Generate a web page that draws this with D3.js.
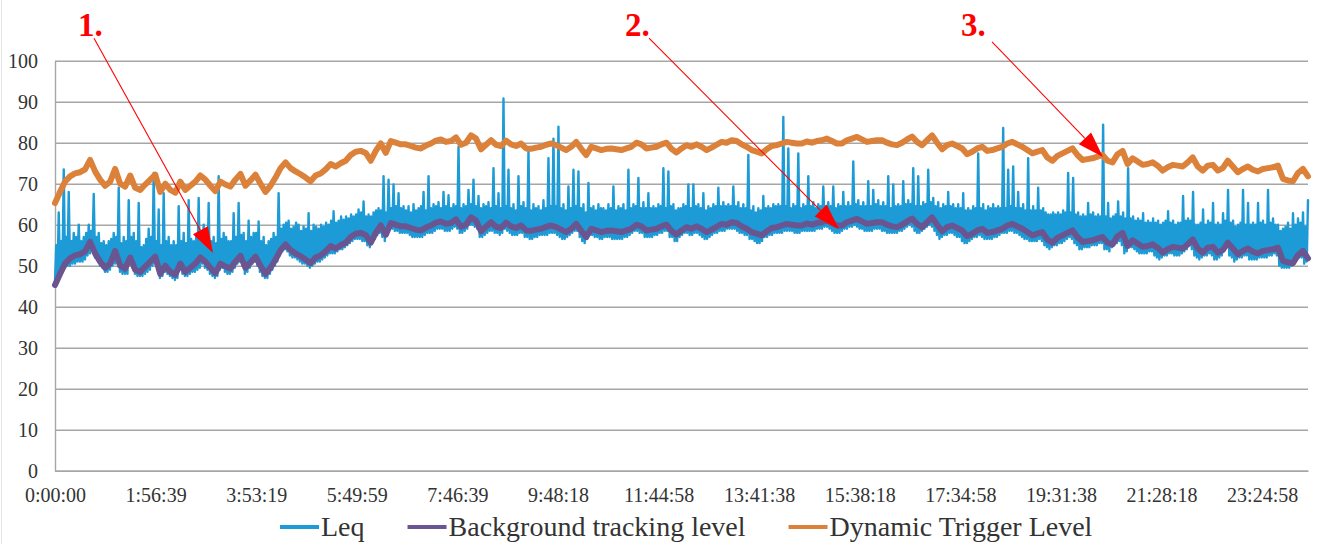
<!DOCTYPE html>
<html><head><meta charset="utf-8">
<script src="https://cdn.jsdelivr.net/npm/d3@7"></script>
<style>
html,body{margin:0;padding:0;background:#fff;}
svg{display:block;font-family:"Liberation Serif","Times New Roman",serif;}
</style></head><body>
<svg id="chart" width="1325" height="544"></svg>
<script>
// ---------- data ----------
const timeLabels = ["0:00:00","1:56:39","3:53:19","5:49:59","7:46:39","9:48:18","11:44:58",
  "13:41:38","15:38:18","17:34:58","19:31:38","21:28:18","23:24:58"];
const samplesPerLabel = 7000;
const totalSamples = 87190;
const yTicks = [0,10,20,30,40,50,60,70,80,90,100];

const seriesNames = ["Leq","Background tracking level","Dynamic Trigger Level"];

const leq = [
46,55,47,63,47.5,56,49,73.5,49.5,57,50,68,50,56,50.5,58,50.5,57,51,60,
51,56,51,57,51.5,58,52.5,60,53,58.5,54,67.5,52,57,51.5,58,50,55.5,49.5,56,
48.5,55,48.5,56,49,56.5,50,58,50.5,57,51,69,48.5,55.5,48,57,48,56,48,66,
50.5,57,49.5,58,48,56,47.5,65.3,47.5,54.5,47.5,55,48,56.5,48.5,59,49,57,50,72.6,
50.5,56,49,63.7,47,55,47.5,67.7,48.5,56,48,57,47.5,55,47,56,46.5,55,47,64.5,
49,56,48,58,47.5,55.5,47.5,66,48,56.5,48.5,56,48.5,57,49,66.5,49.5,57,50.5,60,
49.5,57,49,65.3,48,56,47.5,57,47,55.5,47.5,71.8,49,56.5,49.5,58,48.5,57,48,56,
48,56,48.5,62.8,49.5,57,50.5,65.3,51,57.5,50,58,48,56,48.5,61,49.5,57,50.5,58,
51,58,50,60.8,48.5,56,47.5,57,47,55,47,56,48,56.5,49,58,50,57,51,67.7,
52.5,59,53.5,60,54,60.5,53.5,61,52.5,59,52,59.5,52,60.5,51.5,60,51,58.5,50.5,59.6,
50.5,59,50,62.8,49.5,58.5,50,60,50.5,59.5,51,59,51,60,51.5,59.5,52,60.5,52.5,60,
53,61,53,63.3,53,60.5,53.5,61,54,62,54,61.2,54.5,62,55,61.5,55.5,62.5,56,62,
56.5,62.5,56.5,63.7,56.5,63,56,65.7,56,62,55,62.5,54.5,62,55.5,63,56.5,63.5,57.5,64,
58,63.5,57,71.8,56,63,57.5,71,59,64,59,69.8,58.5,64.5,58.5,67.7,58,64,58,64.5,
58,63.5,58,64.5,57.5,63,57,65,57,63.5,57,64,57,64.5,57,68,57.5,63.5,58,71.8,
58,64,58,65,58.5,64.5,59,65.5,59,64,59,68,58.5,64.5,58.5,67.2,58.5,64,59,65,
59.5,64.5,59,79,58,64,58,65,58.5,64.5,59,68.5,60,65,60,71,59.5,64.5,59,67,
57,64,57,65,57.5,64.5,58,65.5,58.5,64,58.5,73.8,58,64.5,58,67.7,57.5,64,58,90.8,
59,64.5,58.5,73.4,58,64,57.5,65,57.5,63.5,57.5,71.8,58,64.5,58,65.5,57,64,57,78.2,
56.5,63.5,56.5,65,57,64,57,64.5,57.5,63.5,57.5,66,57.5,64,57.5,76.2,58,64.5,58,81,
58,64.5,57.5,83.9,57,64,56.5,65,56.5,63.5,57,69.3,57.5,64,58,73.4,58.5,64.5,58.5,73,
57,64,56,65,55.5,63,56.5,70.2,57.5,64,57.5,64.5,57,63.5,57,65,56.5,64,56.5,64,
57,63.5,57,65,57,64,56.5,69.3,56.5,63.5,56.5,64.5,56.5,64,56.5,65,57,63.5,57,73.4,
57.5,64,58,65,58.5,64.5,58.5,71.4,58,64,58,65.5,57,64,57,67.7,57,64,57,64.5,
57.5,64,57.5,65,58,64.5,58,73.8,58.5,64,58.5,73,57,64.5,57,65,56,63.5,56,64,
57,64,57.5,65,58,64.5,58,69.8,57.5,64,57.5,69.8,58,64.5,58,65,57.5,64,57,67.7,
56.5,63.5,56.5,64.5,57,64,57.5,65,58,64.5,58,69,58.5,64.5,58.5,65.5,58.5,64.5,59,65,
59,64.5,59,69.3,59,64.5,58.5,65.5,58,64,58,65,57.5,64,57.5,77,56.5,63.5,56.5,64.5,
56,63,55.5,64,55.5,63.5,56,67,57,64,57,64.5,57.5,64,57.5,65,58,64.5,58,65,
58,64.5,58,86.3,58.5,64.5,58.5,78.6,58.5,64,58.5,65,58,64.5,58,77.4,58,64,58.5,65,
58.5,64.5,58.5,71.8,58.5,64.5,58.5,65.5,58.5,64,59,65,59,64.5,59,69.3,59.5,64.5,59.5,65.5,
59,64.5,58.5,69.3,58,64,58,65,58,64.5,58.5,68,59,64.5,59,65.5,59.5,64.5,59.5,75.4,
60,65,59.5,66,59,64.5,59,65.5,58.5,64.5,58.5,70.6,58.5,64.5,58.5,68.5,59,65,59,66,
59,64.5,58.5,65.5,58.5,64.5,58,71.8,58,64,58,69.8,58,64.5,58,65,58.5,64.5,58.5,70.6,
59,65,59.5,66,60,65,59.5,73.8,58.5,64.5,58,71.8,58,64.5,58.5,65.5,59,65,59.5,73.4,
60,65.5,59.5,66.5,58.5,64.5,57.5,65.5,56.5,64,57,65,57.5,64.5,57.5,68,58,64.5,58,65,
57.5,64,57,65,57,64,56,67.7,55.5,63.5,55.5,64,56,63.5,56.5,64.5,57,64,57,77.4,
57.5,64,57,65,56.5,63.5,56.5,64.5,56.5,64,56.5,65,57,64,57,64.5,57.5,64,58,83.6,
58,64,58,73.4,58.5,64.5,58.5,74.2,58,64,58,68,57.5,64,57,65,56.5,63.5,56.5,76.2,
56,63.5,56,64.5,56,63.5,56,69,56.5,63.5,56,64,55,63,54.5,62.5,54,62.5,54.5,63,
55,62.5,55,63,55.5,62.5,55.5,63.5,56,63,56.5,72.6,57,63,56.5,71.4,55.5,62.5,55,63,
54,62,54,62.5,54.5,62,54.5,65.3,54.5,62.5,55,63,55,62,55,62.5,55.5,62,55.5,84.4,
54,62,54,65.3,53.5,61.5,54.5,62,55.5,62.5,55.5,65.7,56,62,55,63,53,61.5,53.5,73.8,
54.5,61.5,54.5,62,54,61,53.5,61.5,53,61,53,62.8,53,60.5,53,61,53.5,60.5,53.5,61.5,
52.5,60.5,52,61,51.5,60,52,60.5,52.5,61,52.5,63.3,53,60.5,53,61,52.5,60,52.5,60.5,
52.5,60.5,53,67,53.5,61,54,61.5,55,61,54,68,52.5,60,52,60,51.5,60.5,52,63.7,
52.5,60,52.5,61,53,60.5,52.5,65.3,51.5,60,51.5,60.5,52,60,52.5,62.8,54,61,54.5,68.5,
52.5,60.5,52,61,51,59.5,51.5,60,52,60.5,52,68.5,52.5,60,52.5,65.3,51.5,60,51.5,60.5,
51.5,60,51.5,65.3,52,60.5,52,61,52,60,52,68.5,52.5,60.5,52.5,61.5,53,60,52.5,60,
50,58.5,49.5,59,49.5,59.5,49.5,60.5,49.5,59,50,62.8,51,60,51.5,61.5,52,60.5,52,63,
50.5,59.5,51,66
];

const backgroundLevel = [
45.3,48,50.5,51.8,52.5,52.8,53.5,55.8,53,51,
49.5,50.5,53.6,50,49.3,52,49,48.5,49.8,51,
52.2,48,50,48.5,47.8,50.5,48.5,49.5,50.5,52,
51,49.5,48.2,50.5,49.8,49.3,51,52.4,49.5,50.8,
52.2,50,48,49.5,51.5,53.8,55.2,53.8,53,52.3,
51.5,50.6,52,52.5,53.5,54.8,54.2,55,55.6,57,
57.8,58,57.5,55.6,58,59.8,57.5,60.4,60,59.6,
59.6,59.2,58.8,58.6,59.3,59.8,60.5,60.8,60.2,60.4,
61.3,59.5,60,61.8,61,58.4,59.5,60.6,59.5,59.2,
60.5,59.6,59.2,59.8,58.6,58.5,58.8,59,59.5,59.8,
59.4,58.8,58.2,59,60.2,58.5,57,59,58.6,58.2,
58.5,58.6,58.4,58.2,58.6,59,60,59.6,58.6,58.8,
59,59.6,60,58.5,57.6,58.6,59.4,59,59.6,59,
58.2,58.8,59.5,60.2,60,60.6,60.4,59.6,59,58.2,
57.8,57.4,58.4,59.2,59.4,59.8,60.2,60,59.8,59.8,
60.3,60,60.4,60.6,61,60.4,59.8,59.8,60.6,61,
61.4,60.8,60.2,60.4,60.6,60.6,60,59.6,59.4,60,
60.8,61.5,60.2,59.4,60.6,61.8,60,58.4,59.4,59.8,
59.2,58.6,57.2,57.8,58.6,59,58,58.2,58.6,59,
59.8,60.2,59.6,59,58.2,57.4,57.8,58.2,56.4,55.6,
56.8,57.4,58,58.6,57,55.8,56,56.2,56.6,57,
55.6,55.2,57.2,58,54.8,56.2,55.4,54.6,54.8,55.2,
54.4,53.2,54,54.6,54.4,54.2,55.2,56.4,54.2,53.2,
54.4,54.6,53.2,53.8,55.6,54.2,52.8,53.6,54.2,53.4,
53,53.6,53.8,54,54.4,51.2,50.8,50.6,52.6,53.6,
51.8
];

const triggerLevel = [
65.3,68,70.5,71.8,72.5,72.8,73.5,75.8,73,71,
69.5,70.5,73.6,70,69.3,72,69,68.5,69.8,71,
72.2,68,70,68.5,67.8,70.5,68.5,69.5,70.5,72,
71,69.5,68.2,70.5,69.8,69.3,71,72.4,69.5,70.8,
72.2,70,68,69.5,71.5,73.8,75.2,73.8,73,72.3,
71.5,70.6,72,72.5,73.5,74.8,74.2,75,75.6,77,
77.8,78,77.5,75.6,78,79.8,77.5,80.4,80,79.6,
79.6,79.2,78.8,78.6,79.3,79.8,80.5,80.8,80.2,80.4,
81.3,79.5,80,81.8,81,78.4,79.5,80.6,79.5,79.2,
80.5,79.6,79.2,79.8,78.6,78.5,78.8,79,79.5,79.8,
79.4,78.8,78.2,79,80.2,78.5,77,79,78.6,78.2,
78.5,78.6,78.4,78.2,78.6,79,80,79.6,78.6,78.8,
79,79.6,80,78.5,77.6,78.6,79.4,79,79.6,79,
78.2,78.8,79.5,80.2,80,80.6,80.4,79.6,79,78.2,
77.8,77.4,78.4,79.2,79.4,79.8,80.2,80,79.8,79.8,
80.3,80,80.4,80.6,81,80.4,79.8,79.8,80.6,81,
81.4,80.8,80.2,80.4,80.6,80.6,80,79.6,79.4,80,
80.8,81.5,80.2,79.4,80.6,81.8,80,78.4,79.4,79.8,
79.2,78.6,77.2,77.8,78.6,79,78,78.2,78.6,79,
79.8,80.2,79.6,79,78.2,77.4,77.8,78.2,76.4,75.6,
76.8,77.4,78,78.6,77,75.8,76,76.2,76.6,77,
75.6,75.2,77.2,78,74.8,76.2,75.4,74.6,74.8,75.2,
74.4,73.2,74,74.6,74.4,74.2,75.2,76.4,74.2,73.2,
74.4,74.6,73.2,73.8,75.6,74.2,72.8,73.6,74.2,73.4,
73,73.6,73.8,74,74.4,71.2,70.8,70.6,72.6,73.6,
71.8
];

// annotations (in data units: sample index, level)
const annotationLabels = ["1.","2.","3."];
const annotationLabelSample = [1600, 39663, 63044];
const annotationLabelLevel = [106, 106, 106];
const arrowFromSample = [2714, 41333, 65201];
const arrowFromLevel = [105.5, 105.5, 104.6];
const arrowToSample = [10994, 54554, 72925];
const arrowToLevel = [53.1, 58.95, 76.5];

// ---------- drawing ----------
const colors = ["#1d9bd7", "#6a5590", "#dc8139"];
const svg = d3.select("#chart");
const W = 1325, H = 544;
const plot = {left: 55, right: 1308, top: 60.7, bottom: 470.7};
const serif = "'Liberation Serif', 'Times New Roman', serif";

svg.append("rect").attr("width", W).attr("height", H).attr("fill", "#fff");
svg.append("line").attr("x1", 1.5).attr("x2", 1.5).attr("y1", 0).attr("y2", H)
  .attr("stroke", "#e4e4e4").attr("stroke-width", 1);

const x = d3.scaleLinear().domain([0, totalSamples]).range([plot.left, plot.right]);
const y = d3.scaleLinear().domain([0, 100]).range([plot.bottom, plot.top]);

// y axis + gridlines
const yAxis = svg.append("g").attr("transform", `translate(${plot.left},0)`)
  .call(d3.axisLeft(y).tickValues(yTicks).tickFormat(d3.format("d"))
    .tickSize(-(plot.right - plot.left)).tickSizeOuter(0).tickPadding(17));
yAxis.attr("font-family", serif);
yAxis.selectAll(".tick line").attr("stroke", "#a6a6a6").attr("stroke-width", 1.4);
yAxis.select(".domain").attr("stroke", "#a6a6a6").attr("stroke-width", 1.4);
yAxis.selectAll("text").attr("font-size", 20).attr("fill", "#333").style("font-family", serif);

// x axis
const xAxis = svg.append("g").attr("transform", `translate(0,${plot.bottom})`)
  .call(d3.axisBottom(x).tickValues(timeLabels.map((d, i) => i * samplesPerLabel))
    .tickFormat((d, i) => timeLabels[i]).tickSize(0).tickPadding(17));
xAxis.attr("font-family", serif);
xAxis.select(".domain").attr("stroke", "#a6a6a6").attr("stroke-width", 1.4);
xAxis.selectAll("text").attr("font-size", 20).attr("fill", "#333").style("font-family", serif);

function drawSeries(values, color, width) {
  const n = values.length;
  const line = d3.line()
    .x((d, i) => x(i / (n - 1) * totalSamples))
    .y(d => y(d));
  svg.append("path").datum(values).attr("d", line)
    .attr("fill", "none").attr("stroke", color).attr("stroke-width", width)
    .attr("stroke-linejoin", "round").attr("stroke-linecap", "round");
}
drawSeries(leq, colors[0], 2.4);
drawSeries(backgroundLevel, colors[1], 6);
drawSeries(triggerLevel, colors[2], 6);

// annotations
const ann = svg.append("g");
annotationLabels.forEach((lab, i) => {
  ann.append("text").attr("x", x(annotationLabelSample[i])).attr("y", y(annotationLabelLevel[i]))
    .attr("fill", "#ff0000").attr("font-weight", "bold").attr("font-size", 33)
    .style("font-family", serif).text(lab);
  const x0 = x(arrowFromSample[i]), y0 = y(arrowFromLevel[i]);
  const x1 = x(arrowToSample[i]), y1 = y(arrowToLevel[i]);
  const dx = x1 - x0, dy = y1 - y0, len = Math.hypot(dx, dy);
  const ux = dx / len, uy = dy / len;
  const headLen = 26, headHalf = 8.5;
  const bx = x1 - ux * headLen, by = y1 - uy * headLen;
  ann.append("line").attr("x1", x0).attr("y1", y0).attr("x2", bx).attr("y2", by)
    .attr("stroke", "#ff0000").attr("stroke-width", 1.1);
  ann.append("path")
    .attr("d", `M${x1},${y1}L${bx - uy * headHalf},${by + ux * headHalf}L${bx + uy * headHalf},${by - ux * headHalf}Z`)
    .attr("fill", "#ff0000");
});

// legend
const legend = svg.append("g");
let lx = 280;
const ly = 527;
seriesNames.forEach((name, i) => {
  legend.append("line").attr("x1", lx).attr("x2", lx + 39).attr("y1", ly).attr("y2", ly)
    .attr("stroke", colors[i]).attr("stroke-width", 4);
  const t = legend.append("text").attr("x", lx + 41).attr("y", 536)
    .attr("font-size", 28).attr("fill", "#333").style("font-family", serif).text(name);
  lx += 41 + t.node().getComputedTextLength() + 43;
});
</script>
</body></html>
